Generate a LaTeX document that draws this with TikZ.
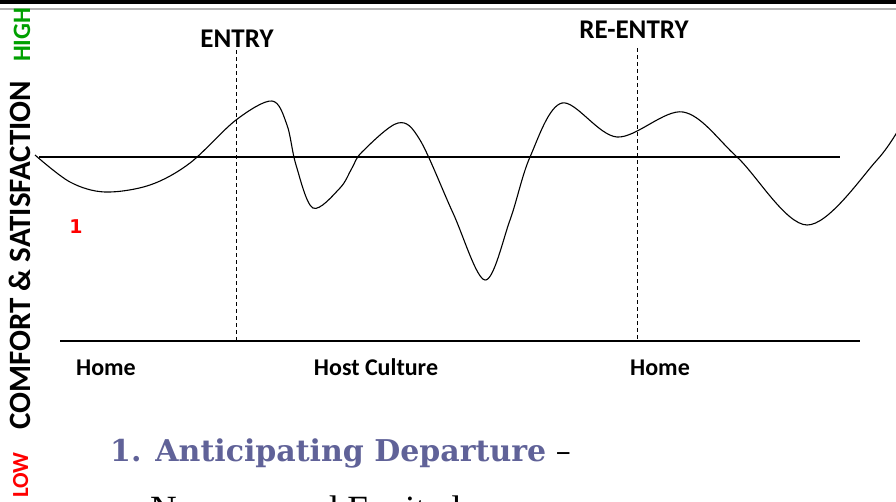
\documentclass[tikz,border=0pt]{standalone}
\usepackage{fontspec}
\usetikzlibrary{positioning}
\newfontfamily\labelfont{Carlito}
\newfontfamily\numfont{DejaVu Sans}
\newfontfamily\headfont{DejaVu Serif}
\newfontfamily\bodyfont{Liberation Serif}
\definecolor{headblue}{RGB}{96,98,152}
\definecolor{highgreen}{RGB}{0,160,0}

\begin{document}
\begin{tikzpicture}[x=1pt,y=-1pt,
  phase/.style={font=\labelfont\bfseries\fontsize{24}{28}\selectfont,inner sep=0pt,anchor=base},
  transition/.style={phase,font=\labelfont\bfseries\fontsize{27}{30}\selectfont},
  axislabel/.style={font=\labelfont\bfseries,inner sep=0pt,rotate=90,anchor=base west},
  marker/.style={dashed,dash pattern=on 4pt off 3pt,line width=0.9pt},
  axis/.style={line width=1.2pt}]
\useasboundingbox (0,0) rectangle (896,501);
\clip (0,0) rectangle (896,501);
% header bar
\fill (0,0) rectangle (896,4);
\fill[gray!60] (0,8) rectangle (896,10);

% vertical scale
\node[axislabel,text=red,font=\labelfont\bfseries\fontsize{23}{26}\selectfont] (low) at (28,498) {LOW};
\node[axislabel,font=\labelfont\bfseries\fontsize{31}{34}\selectfont] (comfort) at (30,430) {COMFORT \& SATISFACTION};
\node[axislabel,text=highgreen,font=\labelfont\bfseries\fontsize{25}{28}\selectfont] (high) at (30,62) {HIGH};

% axes
\coordinate (mid l) at (39,157);
\coordinate (mid r) at (840,157);
\coordinate (base l) at (60,341);
\coordinate (base r) at (860,341);
\draw[axis] (mid l) -- (mid r);
\draw[axis] (base l) -- (base r);

% transitions
\node[transition] (entry) at (237,47) {ENTRY};
\node[transition] (reentry) at (634,38) {RE-ENTRY};
\coordinate (entry top) at (236,50);
\coordinate (reentry top) at (637,48);
\draw[marker] (entry top) -- (entry top |- base l);
\draw[marker] (reentry top) -- (reentry top |- base l);

\node[phase] (home1) at (106,375) {Home};
\node[phase] (host) at (376,375) {Host Culture};
\node[phase] (home2) at (660,375) {Home};

\node[text=red,font=\numfont\bfseries\fontsize{19}{21}\selectfont,inner sep=0pt] (stage1) at (76,227) {1};

% adjustment curve
\draw[line width=1.1pt] plot[smooth,tension=0.55] coordinates {
  (35,155) (70,182) (105,192) (150,185) (190,163) (236,120) (272,101)
  (287,125) (296,165) (313,208) (340,188) (352,168) (362,152) (398,123)
  (420,140) (453,213) (485,280) (510,220) (530,157) (562,103) (617,137)
  (683,112) (737,157) (807,225) (877,160) (905,118)};

% slide text
\node[anchor=base west,inner sep=0pt,font=\headfont\fontsize{30}{34}\selectfont] (title) at (110,461)
  {\textcolor{headblue}{\bfseries 1. Anticipating Departure} \textendash};
\node[anchor=base west,inner sep=0pt,font=\bodyfont\fontsize{37}{40}\selectfont] (sub) at (150,521)
  {Nervous and Excited};
\end{tikzpicture}
\end{document}
